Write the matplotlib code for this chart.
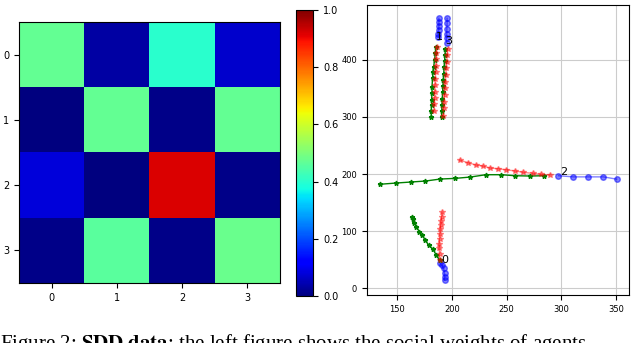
import matplotlib.pyplot as plt
import numpy as np

plt.rcParams['mathtext.fontset'] = 'stix'

# attention / interaction matrix (left panel)
weights = [[0.47, 0.035, 0.40, 0.07],
           [0.00, 0.47, 0.01, 0.47],
           [0.08, 0.00, 0.92, 0.01],
           [0.01, 0.46, 0.01, 0.48]]

# trajectories (right panel): observed (blue), ground truth (green), predicted (red)
obs_x = [[189.3, 190.8, 192.3, 193.2, 193.2, 193.2],
         [188.0, 188.0, 188.0, 187.8, 187.5, 187.5],
         [297.4, 311.0, 324.7, 338.5, 350.6],
         [195.5, 195.5, 195.3, 195.2, 195.0, 195.0]]
obs_y = [[43.3, 40.4, 34.6, 25.8, 19.8, 14.0],
         [473, 466, 460, 453, 446, 440],
         [197, 195, 195, 195, 191],
         [473, 464, 455, 446, 438, 430]]

gt_x = [[188.6, 185.6, 182.6, 178.6, 175.6, 172.6, 170.1, 167.4, 165.5, 164.3, 163.4],
        [185.3, 184.7, 184.1, 183.2, 182.6, 182.2, 181.7, 181.7, 181.3, 181.3, 181.0, 181.0],
        [284.2, 271.5, 257.8, 245.0, 231.0, 216.7, 203.0, 189.3, 175.6, 162.5, 148.8, 133.8],
        [194.0, 193.6, 193.2, 192.8, 192.4, 192.0, 191.7, 191.4, 191.1, 190.8, 190.6, 190.5]]
gt_y = [[49, 58, 68, 75.4, 84, 93, 98.8, 107.5, 114.6, 120.5, 125.1],
        [423, 412, 400, 388, 379, 368, 352, 341.6, 330, 321, 311, 300.5],
        [197, 196.5, 197, 198.8, 198.8, 194.7, 192.4, 191.2, 187.7, 186, 184.2, 182],
        [420, 409, 398, 387, 376, 365, 354, 343, 332, 321, 310, 300]]

pred_x = [[188.6, 188.6, 188.3, 188.3, 188.6, 189.0, 189.3, 189.6, 190.0, 190.5, 191.0],
          [186.0, 185.8, 185.5, 185.3, 185.0, 184.8, 184.5, 184.3, 184.0, 183.8, 183.5],
          [289.7, 281.5, 273.9, 265.3, 257.8, 249.5, 242.0, 234.9, 228.3, 222.1, 214.6, 206.9],
          [196.0, 195.6, 195.2, 194.8, 194.4, 194.0, 193.6, 193.2, 192.8, 192.4, 192.0]]
pred_y = [[49, 60, 70, 78, 86, 95, 103, 110, 118, 125, 133],
          [423, 412, 401, 390, 378, 367, 356, 344, 333, 322, 310],
          [198.2, 199.4, 201.2, 203, 205.3, 207.5, 209.3, 210.5, 214, 215.8, 219.8, 224.6],
          [420, 408, 397, 385, 374, 362, 350, 339, 327, 315, 302]]

labels = ["0", "1", "2", "3"]
label_x = [190.5, 185.5, 299.0, 194.0]
label_y = [44, 435, 198, 428]

fig = plt.figure(figsize=(6.4, 3.43), dpi=100)

ax1 = fig.add_axes([0.03, 0.175, 0.4075, 0.761])
im = ax1.imshow(np.array(weights), cmap='jet', vmin=0, vmax=1)
ax1.set_xticks(range(4))
ax1.set_yticks(range(4))
ax1.tick_params(labelsize=7)

cax = fig.add_axes([0.4625, 0.137, 0.027, 0.834])
cb = fig.colorbar(im, cax=cax)
cb.ax.tick_params(labelsize=7)

ax2 = fig.add_axes([0.573, 0.14, 0.41, 0.845])
for i in range(4):
    ax2.plot(obs_x[i], obs_y[i], 'o-', color='blue', alpha=0.5, ms=4, lw=1)
    ax2.plot(gt_x[i], gt_y[i], '*-', color='green', ms=3.5, lw=1)
    ax2.plot(pred_x[i], pred_y[i], '*-', color='red', alpha=0.45, ms=4, lw=1)
for i in range(4):
    ax2.text(label_x[i], label_y[i], labels[i], fontsize=8, zorder=5)
ax2.set_xlim(122, 362)
ax2.set_ylim(-12, 496)
ax2.set_xticks([150, 200, 250, 300, 350])
ax2.set_yticks([0, 100, 200, 300, 400])
ax2.tick_params(labelsize=6)
ax2.grid(True, color='#cccccc', lw=0.8)

fig.text(0.0, 0.032, r"Figure 2: $\mathbf{SDD\ data}$: the left figure shows the social weights of agents",
         fontsize=15, family='Liberation Serif', va='top', ha='left')

plt.savefig("out.png", dpi=100)
